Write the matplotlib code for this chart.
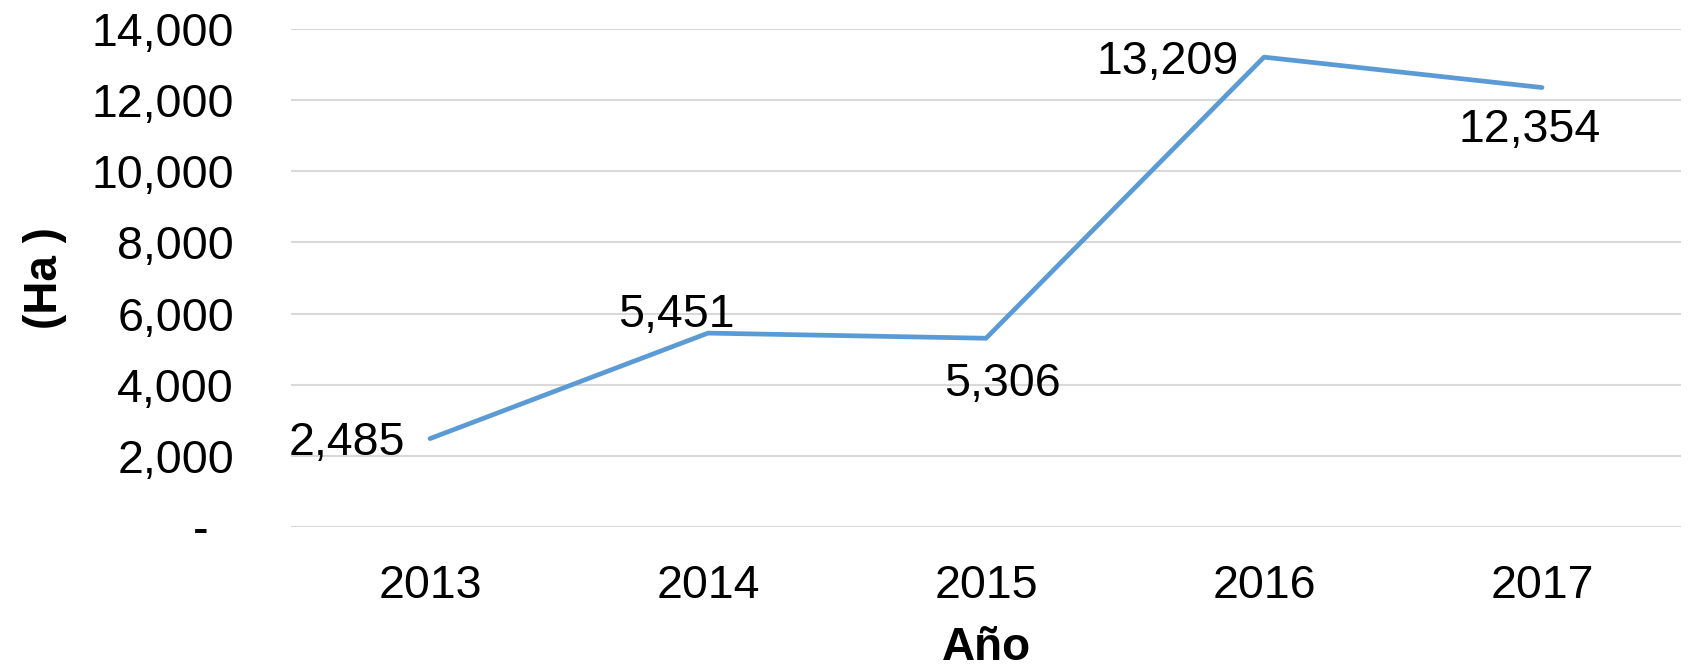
import matplotlib.pyplot as plt
from matplotlib.ticker import FuncFormatter

# datos
years = ['2013', '2014', '2015', '2016', '2017']
hectares = [2485, 5451, 5306, 13209, 12354]
# label offsets in pixels (dx, dy), alignment
label_pos = [(-25, -4, 'right'), (-32, 18, 'center'), (16, -46, 'center'),
             (-25, -5, 'right'), (-12, -42, 'center')]

plt.rcParams['font.family'] = ['Liberation Sans', 'DejaVu Sans']

fig = plt.figure(figsize=(16.94, 6.68), dpi=100)
ax = fig.add_axes([291 / 1694, 1 - 527 / 668, 1390 / 1694, 498 / 668])

x = range(len(years))
ax.plot(x, hectares, color='#5B9BD5', lw=3.4, solid_capstyle='round', zorder=3)

for i, v in enumerate(hectares):
    dx, dy, ha = label_pos[i]
    ax.annotate('{:,}'.format(v), (i, v), xytext=(dx * 0.72, dy * 0.72),
                textcoords='offset points', ha=ha, va='center', fontsize=33.5)

ax.set_xlim(-0.5, len(years) - 0.5)
ax.set_ylim(0, 14000)
ax.set_yticks(range(0, 14001, 2000))
ax.yaxis.set_major_formatter(FuncFormatter(lambda v, p: '-  ' if v == 0 else '{:,.0f}'.format(v)))
ax.set_xticks(list(x))
ax.set_xticklabels(years)
ax.tick_params(axis='both', length=0, labelsize=33.5)
ax.tick_params(axis='x', pad=27)
ax.tick_params(axis='y', pad=41)
ax.grid(axis='y', color='#D9D9D9', lw=1.5)
ax.set_axisbelow(True)
for s in ax.spines.values():
    s.set_visible(False)

ax.set_xlabel('Año', fontsize=33, fontweight='bold')
ax.xaxis.set_label_coords(0.5, -0.198)
ax.set_ylabel('(Ha )', fontsize=33, fontweight='bold', va='center')
ax.yaxis.set_label_coords(-0.177, 0.5)

fig.savefig('out.png', dpi=100)
